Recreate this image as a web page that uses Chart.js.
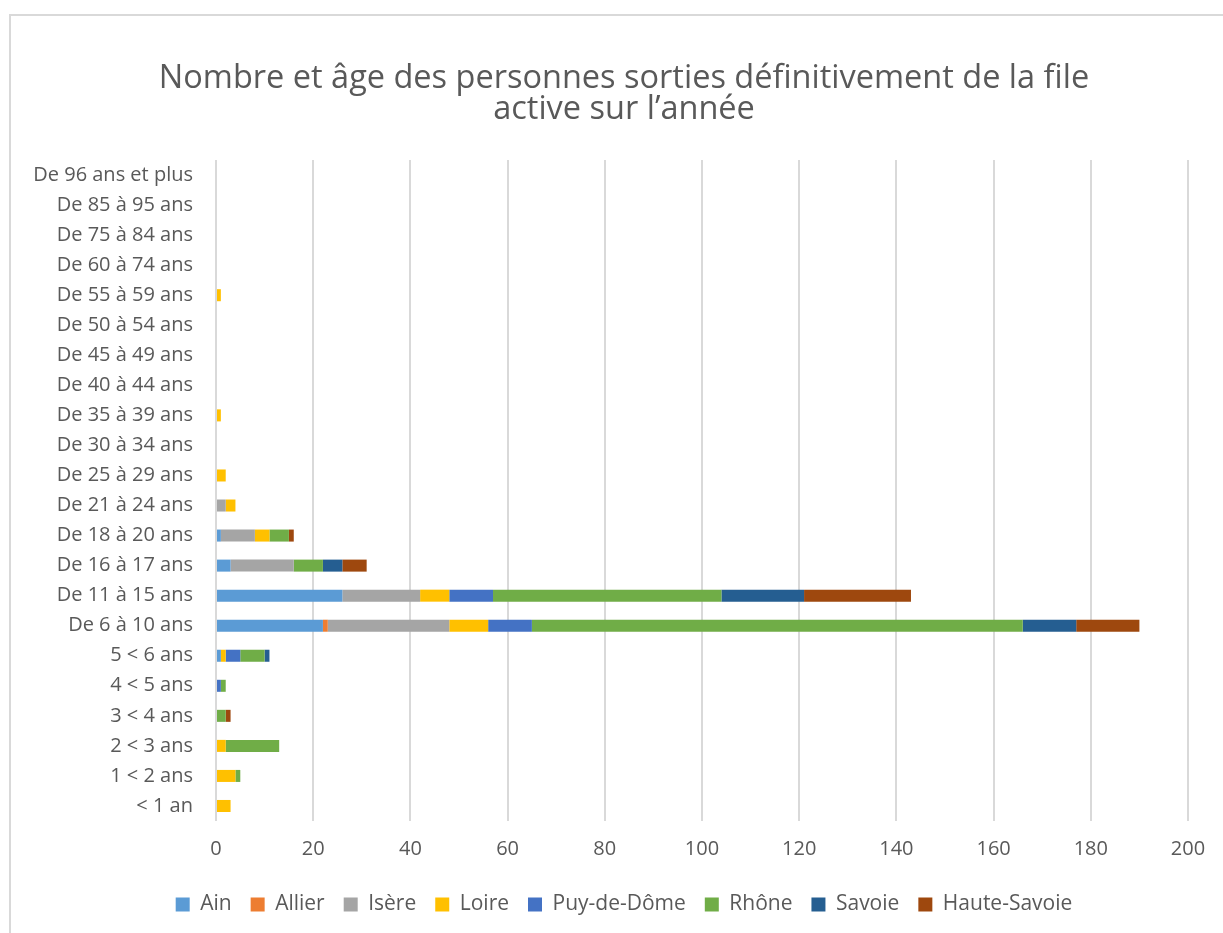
<!DOCTYPE html>
<html lang="fr">
   <head>
      <meta charset="UTF-8">
      <title>Sorties définitives de la file active</title>
      <script src="https://cdn.jsdelivr.net/npm/chart.js"></script>
      <style>
         body { margin: 0; background: #fff; }
         .cadre { position: absolute; left: 9px; top: 14px; width: 1300px; height: 1000px; border: 2px solid #d9d9d9; }
         .zone { position: absolute; left: 0; top: 0; width: 1223px; height: 933px; }
      </style>
   </head>
   <body>
      <div class="cadre"></div>
      <div class="zone">
         <canvas id="barChart" width="1223" height="933"></canvas>
      </div>
      <script>
         // Tranches d'âge (de haut en bas)
         const tranches = ['De 96 ans et plus', 'De 85 à 95 ans', 'De 75 à 84 ans', 'De 60 à 74 ans',
             'De 55 à 59 ans', 'De 50 à 54 ans', 'De 45 à 49 ans', 'De 40 à 44 ans', 'De 35 à 39 ans',
             'De 30 à 34 ans', 'De 25 à 29 ans', 'De 21 à 24 ans', 'De 18 à 20 ans', 'De 16 à 17 ans',
             'De 11 à 15 ans', 'De 6 à 10 ans', '5 < 6 ans', '4 < 5 ans', '3 < 4 ans', '2 < 3 ans',
             '1 < 2 ans', '< 1 an'];

         // Valeurs par département
         const ain         = [0, 0, 0, 0, 0, 0, 0, 0, 0, 0, 0, 0, 1, 3, 26, 22, 1, 0, 0, 0, 0, 0];
         const allier      = [0, 0, 0, 0, 0, 0, 0, 0, 0, 0, 0, 0, 0, 0, 0, 1, 0, 0, 0, 0, 0, 0];
         const isere       = [0, 0, 0, 0, 0, 0, 0, 0, 0, 0, 0, 2, 7, 13, 16, 25, 0, 0, 0, 0, 0, 0];
         const loire       = [0, 0, 0, 0, 1, 0, 0, 0, 1, 0, 2, 2, 3, 0, 6, 8, 1, 0, 0, 2, 4, 3];
         const puyDeDome   = [0, 0, 0, 0, 0, 0, 0, 0, 0, 0, 0, 0, 0, 0, 9, 9, 3, 1, 0, 0, 0, 0];
         const rhone       = [0, 0, 0, 0, 0, 0, 0, 0, 0, 0, 0, 0, 4, 6, 47, 101, 5, 1, 2, 11, 1, 0];
         const savoie      = [0, 0, 0, 0, 0, 0, 0, 0, 0, 0, 0, 0, 0, 4, 17, 11, 1, 0, 0, 0, 0, 0];
         const hauteSavoie = [0, 0, 0, 0, 0, 0, 0, 0, 0, 0, 0, 0, 1, 5, 22, 13, 0, 0, 1, 0, 0, 0];

         const ticksX = [0, 20, 40, 60, 80, 100, 120, 140, 160, 180, 200];

         const police = "'Open Sans', 'Noto Sans', sans-serif";
         const gris = '#595959';

         function serie(label, data, couleur) {
             return { label: label, data: data, backgroundColor: couleur, borderWidth: 0,
                      barPercentage: 0.4, categoryPercentage: 1 };
         }

         // les étiquettes de l'axe Y débordent dans la marge gauche : on élargit la zone de découpe
         const etiquettesY = {
             id: 'etiquettesY',
             afterLayout: function (chart) { chart.scales.y.left = 0; }
         };

         document.addEventListener("DOMContentLoaded", function () {
             const ctx = document.getElementById('barChart').getContext('2d');
             new Chart(ctx, {
                 type: 'bar',
                 data: {
                     labels: tranches,
                     datasets: [
                         serie('Ain', ain, '#5B9BD5'),
                         serie('Allier', allier, '#ED7D31'),
                         serie('Isère', isere, '#A5A5A5'),
                         serie('Loire', loire, '#FFC000'),
                         serie('Puy-de-Dôme', puyDeDome, '#4472C4'),
                         serie('Rhône', rhone, '#70AD47'),
                         serie('Savoie', savoie, '#255E91'),
                         serie('Haute-Savoie', hauteSavoie, '#9E480E')
                     ]
                 },
                 plugins: [etiquettesY],
                 options: {
                     indexAxis: 'y',
                     responsive: false,
                     animation: false,
                     layout: { padding: { left: 60, right: 35, top: 0, bottom: 8 } },
                     plugins: {
                         title: {
                             display: true,
                             text: ['Nombre et âge des personnes sorties définitivement de la file', 'active sur l’année'],
                             color: gris,
                             font: { family: police, size: 32.5, weight: 'normal', lineHeight: '31px' },
                             padding: { top: 63, bottom: 35 }
                         },
                         legend: {
                             position: 'bottom',
                             labels: {
                                 color: gris,
                                 font: { family: police, size: 21 },
                                 boxWidth: 14,
                                 boxHeight: 14,
                                 padding: 19
                             }
                         },
                         tooltip: { enabled: false }
                     },
                     scales: {
                         x: {
                             stacked: true,
                             min: 0,
                             max: 200,
                             afterBuildTicks: function (scale) {
                                 scale.ticks = ticksX.map(v => ({ value: v }));
                             },
                             afterFit: function (scale) {
                                 scale.height = 54;
                                 scale.paddingLeft = 0;
                                 scale.paddingRight = 0;
                             },
                             grid: { color: '#d9d9d9', lineWidth: 2, drawTicks: false },
                             border: { display: false },
                             ticks: { color: gris, font: { family: police, size: 20 }, padding: 16 }
                         },
                         y: {
                             stacked: true,
                             grid: { display: false },
                             border: { display: false },
                             afterFit: function (scale) { scale.width = 156; },
                             ticks: { color: gris, font: { family: police, size: 20 }, padding: 15, autoSkip: false }
                         }
                     }
                 }
             });
         });
      </script>
   </body>
</html>
